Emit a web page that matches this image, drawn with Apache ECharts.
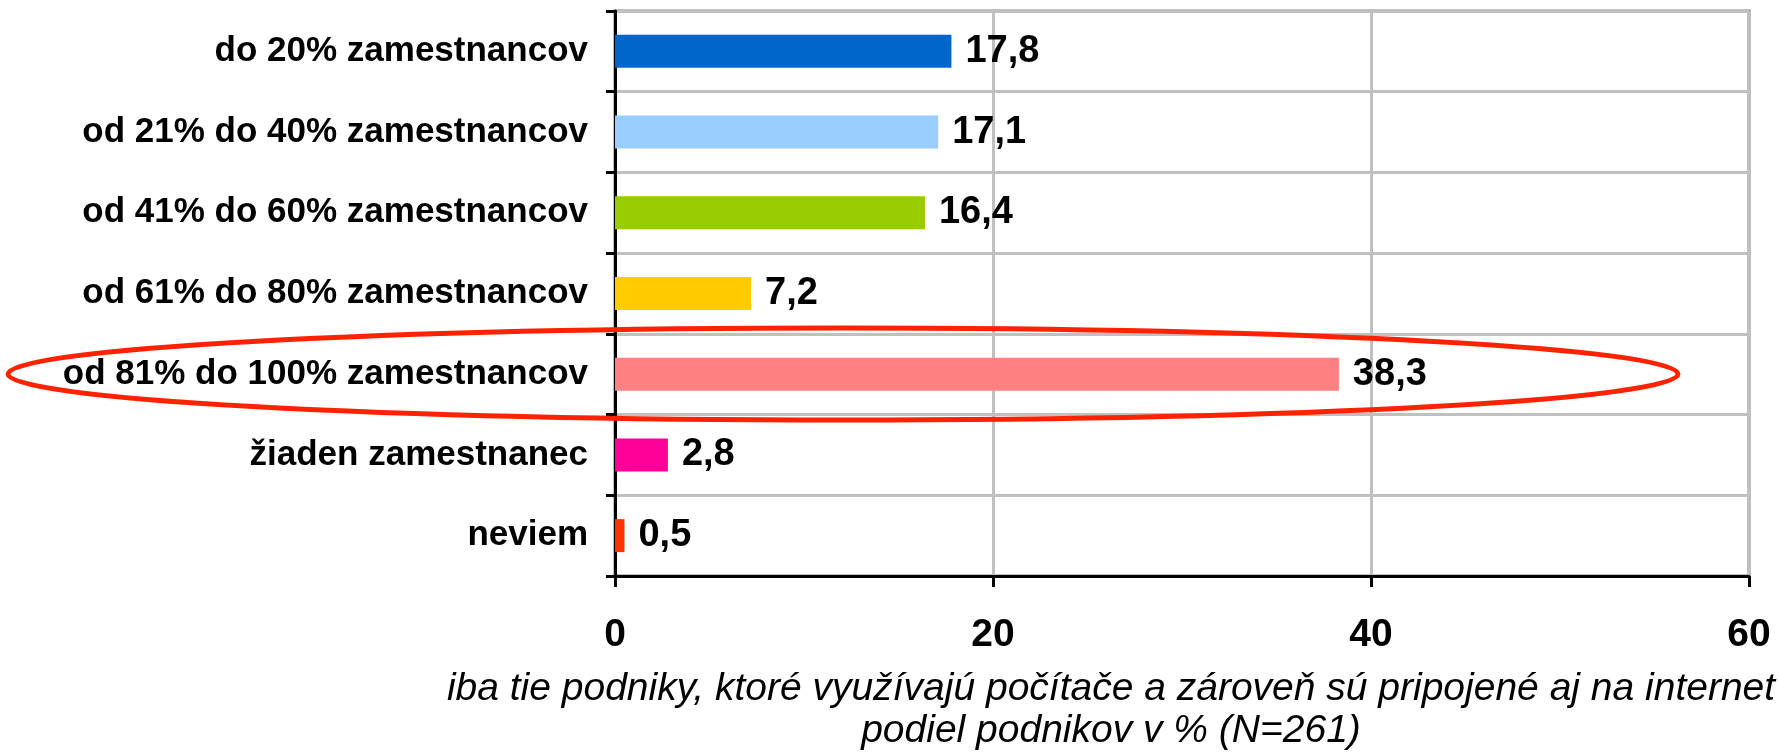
<!DOCTYPE html>
<html>
<head>
<meta charset="utf-8">
<script src="https://cdn.jsdelivr.net/npm/echarts@6/dist/echarts.min.js"></script>
<style>
  html, body { margin: 0; padding: 0; background: #fff; }
  #chart { width: 1779px; height: 754px; }
</style>
</head>
<body>
<div id="chart"></div>
<script>
const categories = [
  "do 20% zamestnancov",
  "od 21% do 40% zamestnancov",
  "od 41% do 60% zamestnancov",
  "od 61% do 80% zamestnancov",
  "od 81% do 100% zamestnancov",
  "žiaden zamestnanec",
  "neviem"
];
const values = [17.8, 17.1, 16.4, 7.2, 38.3, 2.8, 0.5];
const barColors = ["#0066CC", "#99CCFF", "#99CC00", "#FFCC00", "#FF8080", "#FF0099", "#FF3300"];
const axisTitle = [
  "iba tie podniky, ktoré využívajú počítače a zároveň sú pripojené aj na internet",
  "podiel podnikov v % (N=261)"
];

const font = "'Liberation Sans', Arial, sans-serif";
const chart = echarts.init(document.getElementById("chart"), null, { renderer: "canvas" });

chart.setOption({
  animation: false,
  backgroundColor: "#fff",
  grid: {
    left: 615,
    right: 30,
    top: 11,
    bottom: 178,
    show: true,
    borderColor: "#808080",
    borderWidth: 3
  },
  xAxis: {
    type: "value",
    min: 0,
    max: 60,
    interval: 20,
    axisLine: { show: true, lineStyle: { color: "#000", width: 3 } },
    axisTick: { show: true, length: 11, lineStyle: { color: "#000", width: 3 } },
    axisLabel: {
      margin: 40,
      color: "#000",
      fontSize: 39,
      fontWeight: "bold",
      fontFamily: font
    },
    splitLine: { show: true, lineStyle: { color: "#c0c0c0", width: 3 } }
  },
  yAxis: {
    type: "category",
    inverse: true,
    data: categories,
    axisLine: { show: true, lineStyle: { color: "#000", width: 3 } },
    axisTick: { show: true, length: 9, lineStyle: { color: "#000", width: 3 } },
    axisLabel: {
      margin: 27,
      color: "#000",
      fontSize: 35,
      fontWeight: "bold",
      fontFamily: font
    },
    splitLine: { show: true, lineStyle: { color: "#c0c0c0", width: 3 } }
  },
  series: [{
    type: "bar",
    barWidth: 33,
    data: values.map((v, i) => ({ value: v, itemStyle: { color: barColors[i] } })),
    label: {
      show: true,
      position: "right",
      distance: 14,
      color: "#000",
      fontSize: 38,
      fontWeight: "bold",
      fontFamily: font,
      formatter: p => String(p.value).replace(".", ",")
    }
  }],
  graphic: [
    {
      type: "ellipse",
      shape: { cx: 843, cy: 374, rx: 835, ry: 46 },
      style: { fill: "none", stroke: "#FF2200", lineWidth: 5 },
      z: 100
    },
    {
      type: "text",
      x: 1111,
      y: 689,
      style: {
        text: axisTitle[0],
        align: "center",
        verticalAlign: "middle",
        fontSize: 39,
        fontStyle: "italic",
        fontFamily: font,
        fill: "#000"
      }
    },
    {
      type: "text",
      x: 1111,
      y: 731,
      style: {
        text: axisTitle[1],
        align: "center",
        verticalAlign: "middle",
        fontSize: 39,
        fontStyle: "italic",
        fontFamily: font,
        fill: "#000"
      }
    }
  ]
});
</script>
</body>
</html>
